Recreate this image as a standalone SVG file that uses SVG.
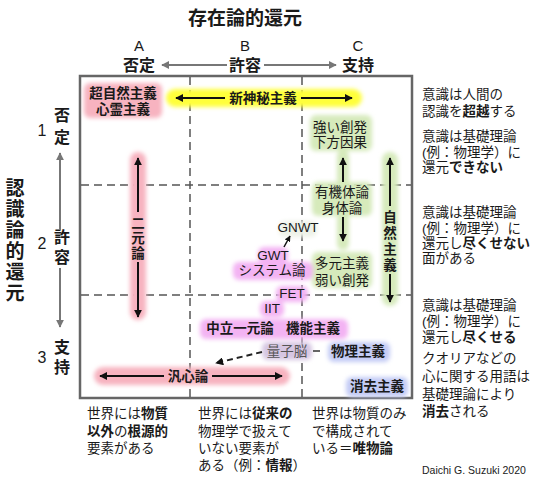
<svg xmlns="http://www.w3.org/2000/svg" width="540" height="480" viewBox="0 0 540 480">
<defs>
<style>
text{font-family:"Liberation Sans","Noto Sans CJK JP",sans-serif;fill:#1a1a1a}
.t13{font-size:13.5px}
.b{font-weight:bold}
.mid{text-anchor:middle}
.hd{font-size:16px;font-weight:bold;text-anchor:middle}
.ink{stroke:#111;stroke-width:2;fill:none}
.gray{stroke:#777;stroke-width:2;fill:none}
.dash{stroke:#555;stroke-width:1.5;stroke-dasharray:8 5;fill:none}
.pink{fill:#f7b3c0}
.yel{fill:#ffff3a}
.grn{fill:#d6eabb}
.mag{fill:#f3b3f3}
.blu{fill:#c3cbf5}
.qb{fill:#d6c6e2}
</style>
<filter id="glow" x="-30%" y="-30%" width="160%" height="160%"><feGaussianBlur stdDeviation="2.2"/></filter>
<marker id="ah" viewBox="0 0 10 10" refX="9" refY="5" markerWidth="4" markerHeight="4" orient="auto-start-reverse"><path d="M0,0L10,5L0,10z" fill="#111"/></marker>
<marker id="ahg" viewBox="0 0 10 10" refX="9" refY="5" markerWidth="4" markerHeight="4" orient="auto-start-reverse"><path d="M0,0L10,5L0,10z" fill="#777"/></marker>
</defs>
<rect width="540" height="480" fill="#fff"/>

<g id="header">
<text x="245" y="25" class="b mid" style="font-size:19px">存在論的還元</text>
<text x="139" y="51" class="mid" style="font-size:15px">A</text>
<text x="245" y="51" class="mid" style="font-size:15px">B</text>
<text x="358" y="51" class="mid" style="font-size:15px">C</text>
<text x="139" y="71" class="hd">否定</text>
<text x="245" y="71" class="hd">許容</text>
<text x="358" y="71" class="hd">支持</text>
</g>

<g id="left-axis">
<text x="15" y="195" class="b mid" style="font-size:19px">認</text>
<text x="15" y="216" class="b mid" style="font-size:19px">識</text>
<text x="15" y="237" class="b mid" style="font-size:19px">論</text>
<text x="15" y="258" class="b mid" style="font-size:19px">的</text>
<text x="15" y="279" class="b mid" style="font-size:19px">還</text>
<text x="15" y="300" class="b mid" style="font-size:19px">元</text>
<text x="42" y="136" class="mid" style="font-size:16px">1</text>
<text x="42" y="249" class="mid" style="font-size:16px">2</text>
<text x="42" y="363" class="mid" style="font-size:16px">3</text>
<text x="62" y="121" class="hd">否</text>
<text x="62" y="143" class="hd">定</text>
<text x="62" y="243" class="hd">許</text>
<text x="62" y="263" class="hd">容</text>
<text x="62" y="353" class="hd">支</text>
<text x="62" y="373" class="hd">持</text>
</g>

<g id="frame">
<rect x="80" y="76" width="332" height="322" fill="#fff" stroke="#666" stroke-width="2.5"/>
<line x1="190" y1="77" x2="190" y2="397" class="dash"/>
<line x1="302" y1="77" x2="302" y2="397" class="dash"/>
<line x1="81" y1="185" x2="411" y2="185" class="dash"/>
<line x1="81" y1="295" x2="411" y2="295" class="dash"/>
</g>

<g id="glows" filter="url(#glow)">
<rect x="84" y="83" width="78" height="35" rx="6" class="pink"/>
<rect x="166" y="89" width="196" height="18" rx="9" class="yel"/>
<rect x="310" y="115" width="62" height="36" rx="6" class="grn"/>
<rect x="337" y="150" width="12" height="100" rx="6" class="grn"/>
<rect x="312" y="182" width="60" height="34" rx="6" class="grn"/>
<rect x="312" y="252" width="60" height="36" rx="6" class="grn"/>
<rect x="382" y="152" width="16" height="154" rx="8" class="grn"/>
<rect x="130" y="152" width="16" height="168" rx="8" class="pink"/>
<rect x="279" y="221" width="38" height="16" rx="6" fill="#eef2e8"/>
<rect x="258" y="247" width="30" height="16" rx="6" class="mag"/>
<rect x="233" y="262" width="80" height="18" rx="6" class="mag"/>
<rect x="276" y="286" width="32" height="16" rx="6" class="mag"/>
<rect x="260" y="301" width="24" height="16" rx="6" class="mag"/>
<rect x="200" y="319" width="148" height="20" rx="6" class="mag"/>
<rect x="262" y="342" width="50" height="18" rx="6" class="qb"/>
<rect x="328" y="342" width="62" height="20" rx="6" class="blu"/>
<rect x="346" y="377" width="62" height="20" rx="6" class="blu"/>
<rect x="94" y="367" width="196" height="18" rx="9" class="pink"/>
</g>

<g id="connectors">
<line x1="227" y1="65" x2="162" y2="65" class="gray" marker-end="url(#ahg)"/>
<line x1="264" y1="65" x2="336" y2="65" class="gray" marker-end="url(#ahg)"/>
<line x1="60" y1="230" x2="60" y2="153" class="gray" marker-end="url(#ahg)"/>
<line x1="60" y1="268" x2="60" y2="327" class="gray" marker-end="url(#ahg)"/>
<line x1="225" y1="98" x2="176" y2="98" class="ink" marker-end="url(#ah)"/>
<line x1="301" y1="98" x2="352" y2="98" class="ink" marker-end="url(#ah)"/>
<line x1="343" y1="182" x2="343" y2="158" class="ink" marker-end="url(#ah)"/>
<line x1="343" y1="217" x2="343" y2="241" class="ink" marker-end="url(#ah)"/>
<line x1="390" y1="206" x2="390" y2="158" class="ink" marker-end="url(#ah)"/>
<line x1="390" y1="274" x2="390" y2="302" class="ink" marker-end="url(#ah)"/>
<line x1="138" y1="212" x2="138" y2="158" class="ink" marker-end="url(#ah)"/>
<line x1="138" y1="262" x2="138" y2="317" class="ink" marker-end="url(#ah)"/>
<line x1="164" y1="376" x2="100" y2="376" class="ink" marker-end="url(#ah)"/>
<line x1="212" y1="376" x2="282" y2="376" class="ink" marker-end="url(#ah)"/>
<line x1="284" y1="247" x2="290" y2="236" stroke="#111" stroke-width="1.5" marker-end="url(#ah)"/>
<line x1="262" y1="352" x2="216" y2="363" stroke="#222" stroke-width="2" stroke-dasharray="6 4" marker-end="url(#ah)"/>
<line x1="313" y1="351" x2="320" y2="351" stroke="#333" stroke-width="1.5"/>
</g>

<g id="supernaturalism"><text x="123" y="98" class="t13 b mid">超自然主義</text><text x="123" y="114" class="t13 b mid">心霊主義</text></g>
<g id="new-mysterianism"><text x="263" y="103" class="t13 b mid">新神秘主義</text></g>
<g id="strong-emergence"><text x="340" y="132" class="t13 mid">強い創発</text><text x="340" y="147" class="t13 mid">下方因果</text></g>
<g id="organicism"><text x="342" y="197" class="t13 mid">有機体論</text><text x="342" y="213" class="t13 mid">身体論</text></g>
<g id="pluralism"><text x="342" y="268" class="t13 mid">多元主義</text><text x="342" y="285" class="t13 mid">弱い創発</text></g>
<g id="naturalism"><text x="390" y="222" class="t13 b mid">自</text><text x="390" y="238" class="t13 b mid">然</text><text x="390" y="254" class="t13 b mid">主</text><text x="390" y="270" class="t13 b mid">義</text></g>
<g id="dualism"><text x="138" y="228" class="t13 b mid">二</text><text x="138" y="243" class="t13 b mid">元</text><text x="138" y="258" class="t13 b mid">論</text></g>
<g id="gnwt"><text x="298" y="232" class="t13 mid">GNWT</text></g>
<g id="gwt"><text x="273" y="260" class="t13 mid">GWT</text><text x="272" y="275" class="t13 mid">システム論</text></g>
<g id="fet"><text x="292" y="298" class="t13 mid">FET</text></g>
<g id="iit"><text x="272" y="313" class="t13 mid">IIT</text></g>
<g id="neutral-monism"><text x="240" y="333" class="t13 b mid">中立一元論</text></g>
<g id="functionalism"><text x="313" y="333" class="t13 b mid">機能主義</text></g>
<g id="quantum-brain"><text x="287" y="356" class="t13 mid" style="fill:#555">量子脳</text></g>
<g id="physicalism"><text x="358" y="356" class="t13 b mid">物理主義</text></g>
<g id="eliminativism"><text x="377" y="391" class="t13 b mid">消去主義</text></g>
<g id="panpsychism"><text x="188" y="381" class="t13 b mid">汎心論</text></g>

<g id="right-notes" class="t13">
<text x="422" y="99" class="t13">意識は人間の</text>
<text x="422" y="116" class="t13">認識を<tspan class="b">超越</tspan>する</text>
<text x="422" y="141" class="t13">意識は基礎理論</text>
<text x="422" y="157" class="t13">(例：物理学）に</text>
<text x="422" y="172" class="t13">還元<tspan class="b">できない</tspan></text>
<text x="422" y="217" class="t13">意識は基礎理論</text>
<text x="422" y="233" class="t13">(例：物理学）に</text>
<text x="422" y="248" class="t13">還元し<tspan class="b">尽くせない</tspan></text>
<text x="422" y="263" class="t13">面がある</text>
<text x="422" y="310" class="t13">意識は基礎理論</text>
<text x="422" y="326" class="t13">(例：物理学）に</text>
<text x="422" y="342" class="t13">還元し<tspan class="b">尽くせる</tspan></text>
<text x="422" y="363" class="t13">クオリアなどの</text>
<text x="422" y="381" class="t13">心に関する用語は</text>
<text x="422" y="399" class="t13">基礎理論により</text>
<text x="422" y="416" class="t13"><tspan class="b">消去</tspan>される</text>
<text x="422" y="474" style="font-size:10.5px">Daichi G. Suzuki 2020</text>
</g>

<g id="bottom-notes">
<text x="87" y="418" class="t13">世界には<tspan class="b">物質</tspan></text>
<text x="87" y="436" class="t13"><tspan class="b">以外</tspan>の<tspan class="b">根源的</tspan></text>
<text x="87" y="453" class="t13">要素がある</text>
<text x="198" y="418" class="t13">世界には<tspan class="b">従来の</tspan></text>
<text x="198" y="436" class="t13">物理学で扱えて</text>
<text x="198" y="453" class="t13">いない要素が</text>
<text x="198" y="470" class="t13">ある（例：<tspan class="b">情報</tspan>）</text>
<text x="312" y="418" class="t13">世界は物質のみ</text>
<text x="312" y="436" class="t13">で構成されて</text>
<text x="312" y="453" class="t13">いる＝<tspan class="b">唯物論</tspan></text>
</g>
</svg>
